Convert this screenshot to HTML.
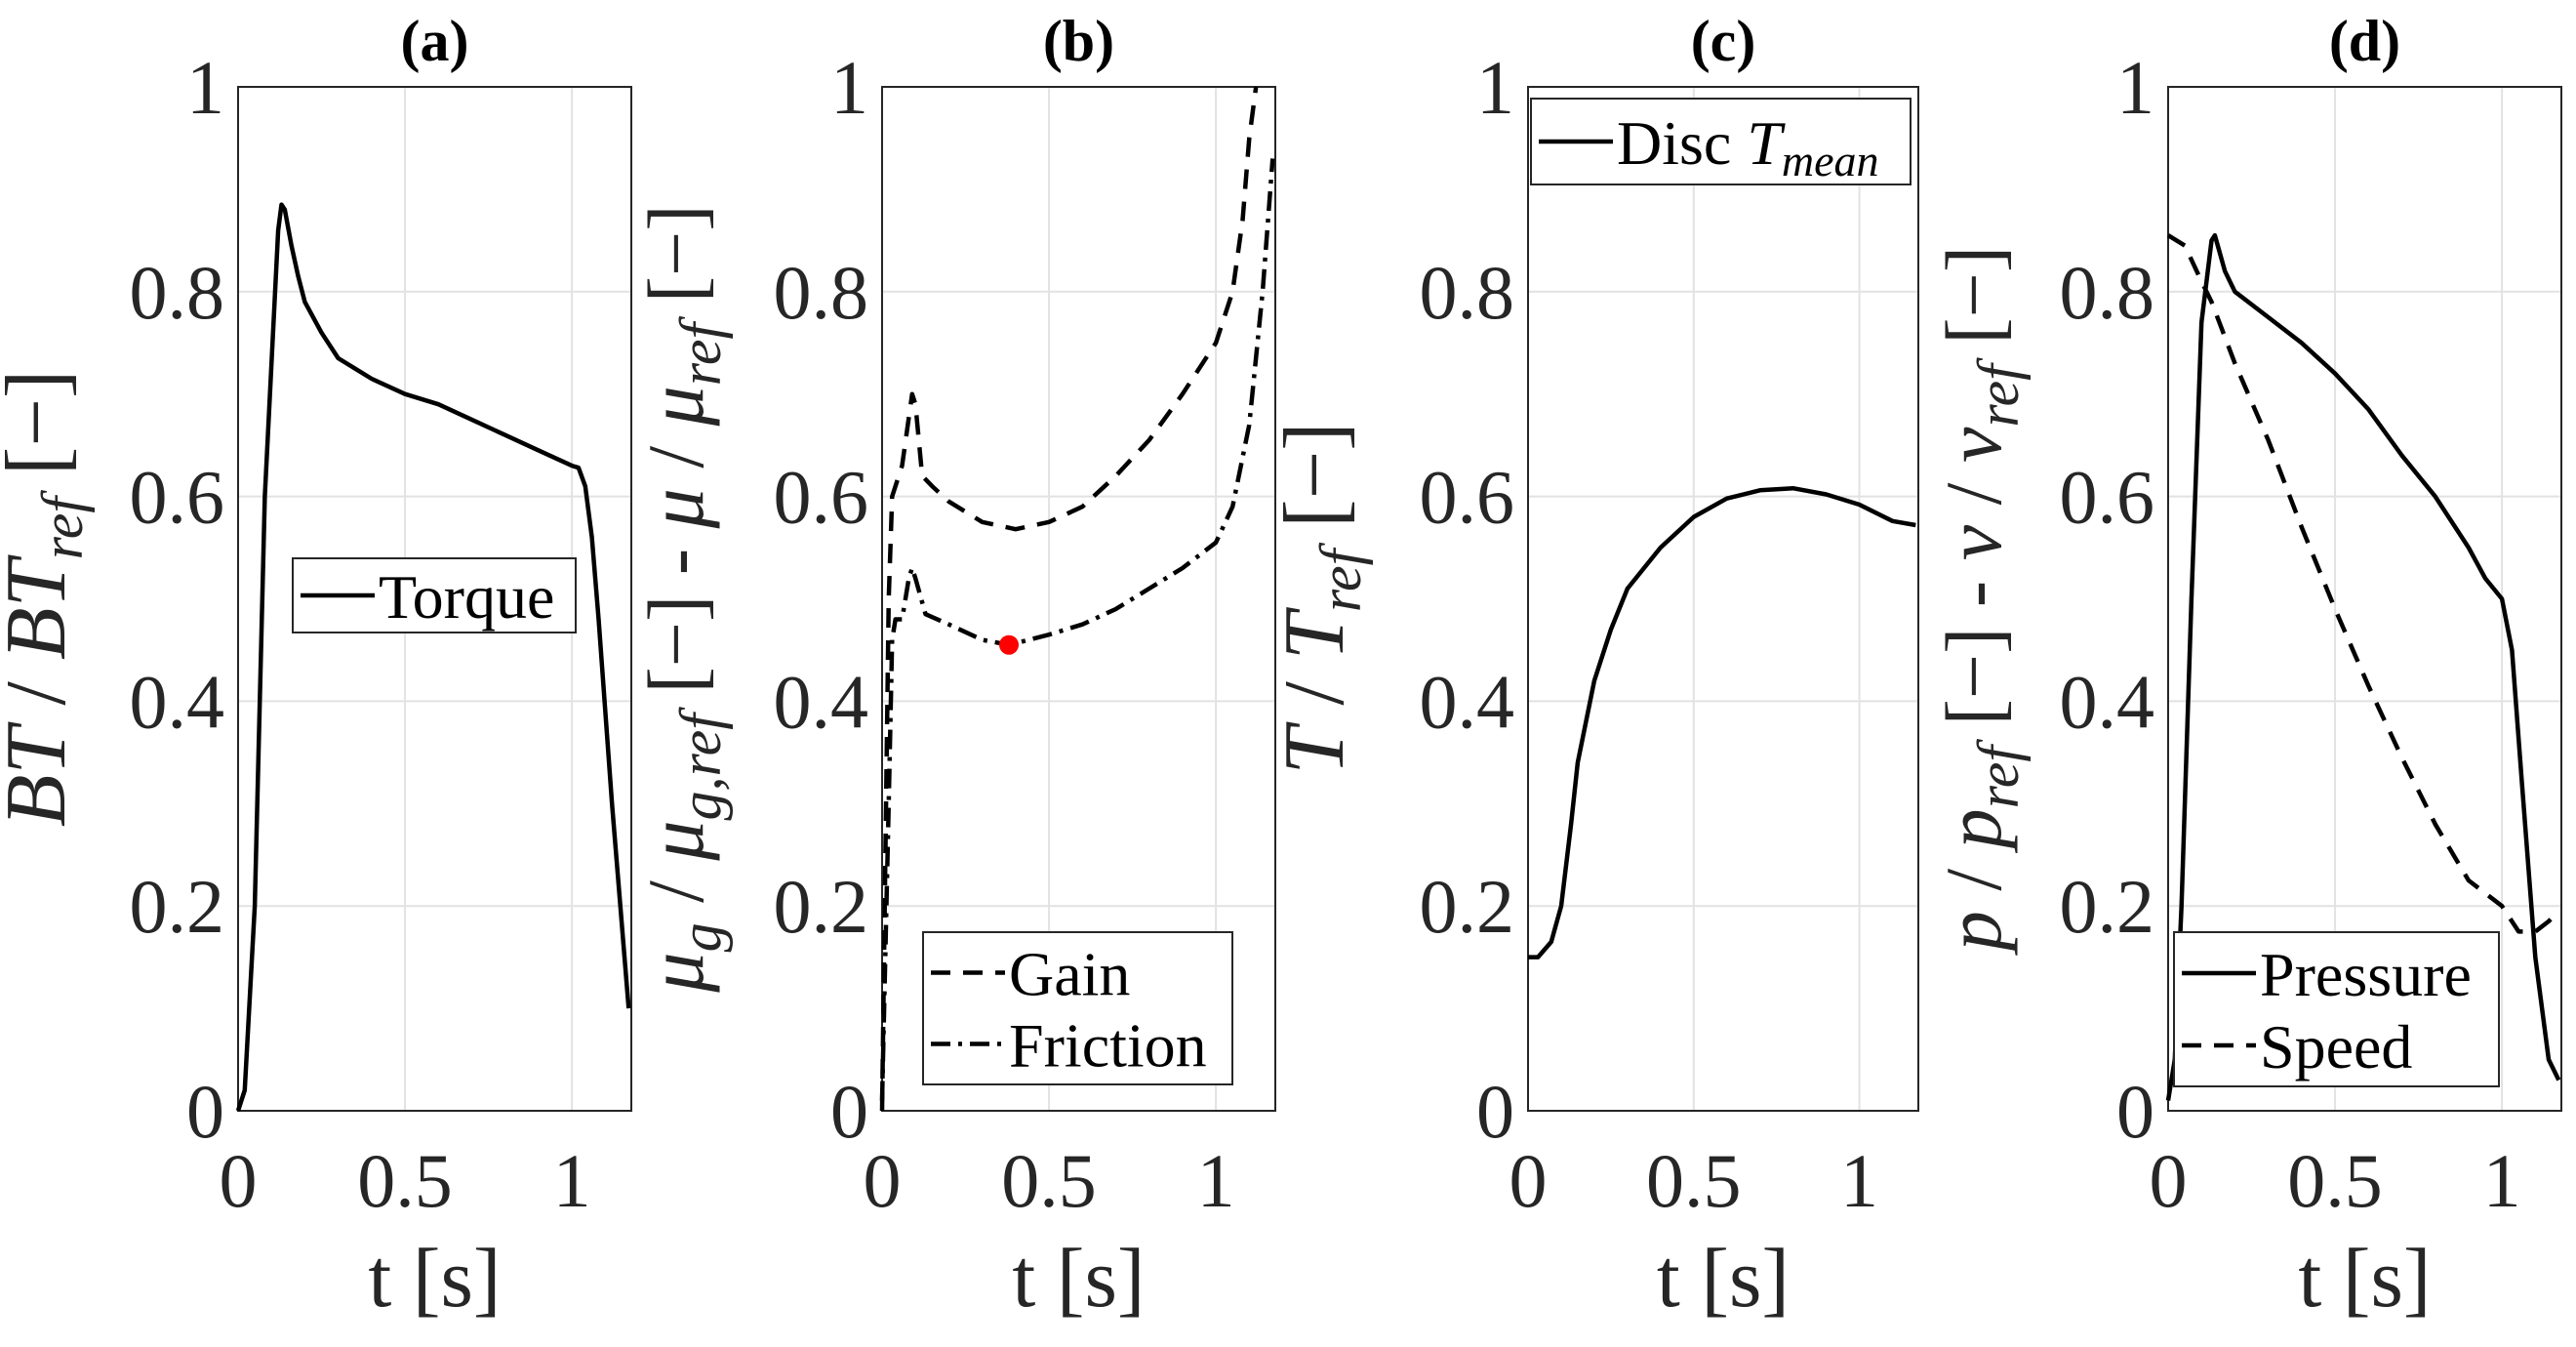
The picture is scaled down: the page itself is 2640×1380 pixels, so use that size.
<!DOCTYPE html>
<html><head><meta charset="utf-8"><style>
html,body{margin:0;padding:0;background:#fff;}
svg, svg text, svg tspan{font-family:"Liberation Serif","DejaVu Serif",serif;}
</style></head><body>
<svg id="fig" width="2640" height="1375" viewBox="0 0 2640 1375" xmlns="http://www.w3.org/2000/svg" font-family="Liberation Serif, serif"></svg>
<script>
// ---- data ----
const torqueT=[0,0.02,0.05,0.08,0.12,0.13,0.14,0.16,0.18,0.2,0.25,0.3,0.4,0.5,0.6,0.7,0.8,0.9,1.0,1.02,1.04,1.06,1.08,1.12,1.17];
const torqueV=[0,0.02,0.2,0.6,0.86,0.885,0.88,0.845,0.815,0.79,0.76,0.735,0.715,0.70,0.69,0.675,0.66,0.645,0.63,0.628,0.61,0.56,0.48,0.3,0.1];
const gainT=[0,0.02,0.03,0.06,0.09,0.1,0.12,0.15,0.2,0.3,0.4,0.5,0.6,0.7,0.8,0.9,1.0,1.05,1.08,1.1,1.12];
const gainV=[0,0.5,0.6,0.63,0.7,0.69,0.62,0.61,0.595,0.575,0.568,0.575,0.59,0.62,0.655,0.7,0.75,0.8,0.87,0.95,1.0];
const fricT=[0,0.02,0.03,0.04,0.06,0.08,0.09,0.1,0.13,0.2,0.3,0.38,0.5,0.6,0.7,0.8,0.9,1.0,1.05,1.1,1.14,1.17];
const fricV=[0.01,0.3,0.46,0.48,0.48,0.52,0.53,0.52,0.485,0.475,0.46,0.455,0.465,0.475,0.49,0.51,0.53,0.555,0.59,0.67,0.8,0.93];
const markerT=[0.38]; const markerV=[0.455];
const tempT=[0,0.03,0.07,0.1,0.13,0.15,0.2,0.25,0.3,0.4,0.5,0.6,0.7,0.8,0.9,1.0,1.1,1.17];
const tempV=[0.15,0.15,0.165,0.2,0.28,0.34,0.42,0.47,0.51,0.55,0.58,0.598,0.606,0.608,0.602,0.592,0.576,0.572];
const presT=[0,0.02,0.04,0.07,0.1,0.13,0.14,0.17,0.2,0.3,0.4,0.5,0.6,0.7,0.8,0.9,0.95,1.0,1.03,1.06,1.1,1.14,1.17];
const presV=[0.01,0.05,0.2,0.5,0.77,0.85,0.855,0.82,0.8,0.775,0.75,0.72,0.685,0.64,0.6,0.55,0.52,0.5,0.45,0.32,0.15,0.05,0.03];
const speedT=[0,0.05,0.1,0.13,0.2,0.3,0.4,0.5,0.6,0.7,0.8,0.9,1.0,1.05,1.1,1.14,1.17];
const speedV=[0.855,0.845,0.81,0.79,0.73,0.655,0.57,0.49,0.415,0.345,0.28,0.225,0.2,0.175,0.175,0.185,0.195];
const xTicks=[0,0.5,1]; const xTickLabels=["0","0.5","1"];
const yTicks=[0,0.2,0.4,0.6,0.8,1]; const yTickLabels=["0","0.2","0.4","0.6","0.8","1"];

const NS="http://www.w3.org/2000/svg";
const svg=document.getElementById('fig');
const FF="Liberation Serif, DejaVu Serif, serif";
function mk(tag,attrs,parent){const e=document.createElementNS(NS,tag);for(const k in attrs)e.setAttribute(k,attrs[k]);if(tag==='text')e.setAttribute('font-family',FF);(parent||svg).appendChild(e);return e;}
const TOP=89,BOT=1138,XMAX=1.178;
const panels=[{L:244,R:647,title:"(a)",ylx:66},{L:904,R:1307,title:"(b)",ylx:720},{L:1566,R:1966,title:"(c)",ylx:1376},{L:2222,R:2625,title:"(d)",ylx:2050}];
function sx(p,t){return p.L+(p.R-p.L)*t/XMAX;}
function sy(v){return BOT-(BOT-TOP)*v;}

panels.forEach((p,i)=>{
  const g=mk('g',{});
  
  
  yTicks.forEach((v,j)=>{
    if(v>0&&v<1){const gl=mk('line',{x1:p.L,x2:p.R,y1:sy(v),y2:sy(v),stroke:'#e2e2e2','stroke-width':2},g);
    }
    const t=mk('text',{x:p.L-14,y:sy(v)+27,'text-anchor':'end','font-size':78,fill:'#262626'},g);
    t.textContent=yTickLabels[j];
    
  });
  xTicks.forEach((v,j)=>{
    if(v>0){const gl=mk('line',{x1:sx(p,v),x2:sx(p,v),y1:TOP,y2:BOT,stroke:'#e2e2e2','stroke-width':2},g);
    }
    const t=mk('text',{x:sx(p,v),y:1236,'text-anchor':'middle','font-size':78,fill:'#262626'},g);
    t.textContent=xTickLabels[j];
    
  });
  const box=mk('rect',{x:p.L,y:TOP,width:p.R-p.L,height:BOT-TOP,fill:'none',stroke:'#262626','stroke-width':2},g);
  
  const tt=mk('text',{x:(p.L+p.R)/2,y:62,'text-anchor':'middle','font-size':60,'font-weight':'bold',fill:'#000'},g);
  tt.textContent=p.title;
  
  const xl=mk('text',{x:(p.L+p.R)/2,y:1338,'text-anchor':'middle','font-size':86,fill:'#262626'},g);
  xl.textContent="t [s]";
  
  p.g=g;
});

function line(p,T,V,dash,name){
  const d=T.map((t,k)=>(k?'L':'M')+sx(p,t).toFixed(1)+','+sy(V[k]).toFixed(1)).join(' ');
  const e=mk('path',{d:d,fill:'none',stroke:'#000','stroke-width':4.5,'stroke-linejoin':'round','stroke-dasharray':dash||'none'},p.g);
  
  
}
line(panels[0],torqueT,torqueV,null,'torque-line');
line(panels[1],gainT,gainV,'20,13','gain-line');
line(panels[1],fricT,fricV,'20,8,4,8','friction-line');
markerT.forEach((t,k)=>{const c=mk('circle',{cx:sx(panels[1],t),cy:sy(markerV[k]),r:10,fill:'#f00'},panels[1].g);
});
line(panels[2],tempT,tempV,null,'disc-temperature-line');
line(panels[3],presT,presV,null,'pressure-line');
line(panels[3],speedT,speedV,'20,13','speed-line');

// y-axis titles
function ylab(p,html,name,fs){
  const t=mk('text',{transform:`translate(${p.ylx},613) rotate(-90)`,'text-anchor':'middle','font-size':fs||88,fill:'#262626'});
  t.innerHTML=html;
  
}
const S=(s)=>`<tspan font-style="italic" font-size="60" dy="18">${s}</tspan><tspan dy="-18">`;
ylab(panels[0],`<tspan font-style="italic">BT</tspan> / <tspan font-style="italic">BT</tspan>${S('ref')}  [−]</tspan>`,'y-axis-title-torque');
ylab(panels[1],`<tspan font-style="italic">μ</tspan>${S('g')} / </tspan><tspan font-style="italic">μ</tspan>${S('g,ref')} [−] - </tspan><tspan font-style="italic">μ</tspan> / <tspan font-style="italic">μ</tspan>${S('ref')} [−]</tspan>`,'y-axis-title-friction',82);
ylab(panels[2],`<tspan font-style="italic">T</tspan> / <tspan font-style="italic">T</tspan>${S('ref')}  [−]</tspan>`,'y-axis-title-temperature');
ylab(panels[3],`<tspan font-style="italic">p</tspan> / <tspan font-style="italic">p</tspan>${S('ref')} [−] - </tspan><tspan font-style="italic">v</tspan> / <tspan font-style="italic">v</tspan>${S('ref')} [−]</tspan>`,'y-axis-title-pressure-speed',82);

// legends
function legend(x,y,w,h,entries,name){
  const g=mk('g',{});
  
  mk('rect',{x:x,y:y,width:w,height:h,fill:'#fff',stroke:'#262626','stroke-width':2},g);
  const rowH=(h-10)/entries.length;
  entries.forEach((en,k)=>{
    const cy=y+5+rowH*(k+0.5);
    const l=mk('line',{x1:x+8,x2:x+84,y1:cy,y2:cy,stroke:'#000','stroke-width':4.5,'stroke-dasharray':en.dash||'none'},g);
    
    const t=mk('text',{x:x+88,y:cy+23,'font-size':64,fill:'#000'},g);
    t.innerHTML=en.label;
    
  });
}
legend(300,572,290,76,[{label:'Torque'}],'legend-torque');
legend(946,955,317,156,[{label:'Gain',dash:'20,13'},{label:'Friction',dash:'20,8,4,8'}],'legend-friction');
legend(1569,101,389,88,[{label:'Disc <tspan font-style="italic">T</tspan><tspan font-style="italic" font-size="46" dy="12">mean</tspan>'}],'legend-temperature');
legend(2228,955,333,158,[{label:'Pressure'},{label:'Speed',dash:'20,13'}],'legend-pressure-speed');
</script>
</body></html>
